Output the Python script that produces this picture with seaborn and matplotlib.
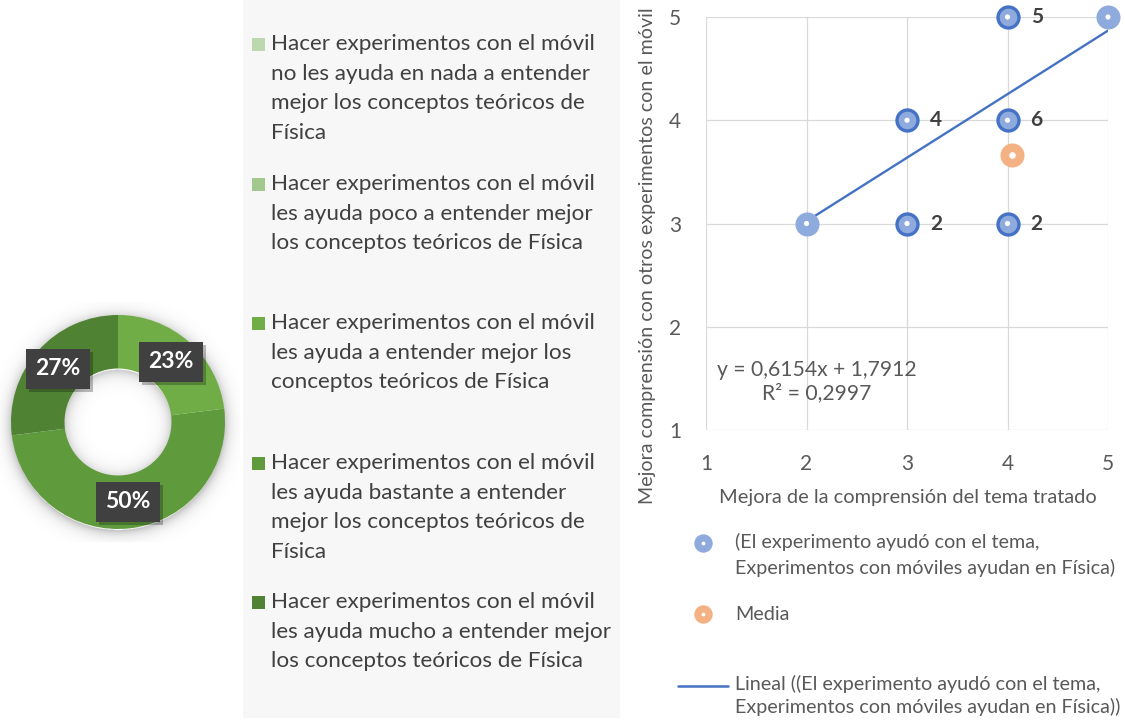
import numpy as np
import pandas as pd
import matplotlib
matplotlib.use("Agg")
import matplotlib.pyplot as plt
import seaborn as sns
from matplotlib.patches import Rectangle

sns.set_theme(style="white")
plt.rcParams['font.family'] = ['Lato', 'DejaVu Sans']

# ---- Donut: valoración de los experimentos con el móvil ----
categorias = [
    "Hacer experimentos con el móvil\nno les ayuda en nada a entender\nmejor los conceptos teóricos de\nFísica",
    "Hacer experimentos con el móvil\nles ayuda poco a entender mejor\nlos conceptos teóricos de Física",
    "Hacer experimentos con el móvil\nles ayuda a entender mejor los\nconceptos teóricos de Física",
    "Hacer experimentos con el móvil\nles ayuda bastante a entender\nmejor los conceptos teóricos de\nFísica",
    "Hacer experimentos con el móvil\nles ayuda mucho a entender mejor\nlos conceptos teóricos de Física",
]
porcentajes = [0, 0, 23, 50, 27]
colores = ["#BDD7AE", "#A3C88E", "#70AD47", "#5F9B3C", "#4F8233"]

# ---- Dispersión: mejora del tema vs. mejora con otros experimentos ----
mejora_tema = [2, 3, 3, 4, 4, 4, 5]
mejora_otros = [3, 3, 4, 3, 4, 5, 5]
respuestas = [1, 2, 4, 2, 6, 5, 1]

W, H = 1125, 720
fig = plt.figure(figsize=(W / 100, H / 100), dpi=100, facecolor="white")

# pixel-space overlay for the legend panel and free text
ax_bg = fig.add_axes([0, 0, 1, 1], zorder=0)
ax_bg.set_xlim(0, W)
ax_bg.set_ylim(H, 0)
ax_bg.axis("off")
ax_bg.add_patch(Rectangle((243, 0), 377, 718, color="#F7F7F7", lw=0))

texto_osc = "#404040"
texto_gris = "#595959"

# legend of the donut
y_entradas = [45, 185, 324, 464, 603]
for cat, col, y0 in zip(categorias, colores, y_entradas):
    ax_bg.add_patch(Rectangle((252, y0 - 7), 13, 13, color=col, lw=0))
    ax_bg.text(271, y0 - 11, cat, ha="left", va="top", fontsize=16.2,
               color=texto_osc, linespacing=1.6)

# ---- donut ----
R_PX = 107.0
cx, cy = 118, 422
ax_pie = fig.add_axes([0, (H - 542) / H, 240 / W, 240 / H], zorder=2)
ax_pie.axis("off")
ax_pie.patch.set_alpha(0)
xlim_p = (-cx / R_PX, (240 - cx) / R_PX)
ylim_p = (-(542 - cy) / R_PX, (cy - 302) / R_PX)

# soft drop shadow around the ring
gx = np.linspace(*xlim_p, 480)
gy = np.linspace(*ylim_p, 480)
XX, YY = np.meshgrid(gx, gy)
rr = np.hypot(XX, YY + 0.02)
sombra = np.zeros_like(rr)
fuera = rr > 0.99
sombra[fuera] = 0.26 * np.exp(-(rr[fuera] - 0.99) / 0.055)
dentro = rr < 0.51
sombra[dentro] = 0.22 * np.exp(-(0.51 - rr[dentro]) / 0.06)
img = np.zeros(rr.shape + (4,))
img[..., 3] = sombra
ax_pie.imshow(img, extent=(gx[0], gx[-1], gy[0], gy[-1]), origin="lower",
              aspect="auto", zorder=0, interpolation="bilinear")

ax_pie.pie(porcentajes, colors=colores, startangle=90, counterclock=False,
           radius=1.0, wedgeprops=dict(width=0.5, edgecolor="none"), frame=False)
ax_pie.set_xlim(*xlim_p)
ax_pie.set_ylim(*ylim_p)
ax_pie.set_aspect("auto")

acum = 0.0
total = float(sum(porcentajes))
for p in porcentajes:
    if p > 0:
        ang = np.deg2rad(90 - (acum + p / 2) / total * 360)
        lx, ly = 0.75 * np.cos(ang), 0.75 * np.sin(ang)
        bw, bh = 64 / R_PX, 40 / R_PX
        ax_pie.add_patch(Rectangle((lx - bw / 2 + 0.03, ly - bh / 2 - 0.03), bw, bh,
                                   color="black", alpha=0.25, lw=0, zorder=3))
        ax_pie.add_patch(Rectangle((lx - bw / 2, ly - bh / 2), bw, bh,
                                   color="#404040", lw=0, zorder=4))
        ax_pie.text(lx, ly, f"{p}%", ha="center", va="center", color="white",
                    fontsize=16.5, fontweight="bold", zorder=5)
    acum += p

# ---- scatter ----
ax = fig.add_axes([706 / W, (H - 430) / H, 402 / W, 413 / H], zorder=2)
df = pd.DataFrame({"tema": mejora_tema, "otros": mejora_otros, "n": respuestas})
datos = df.loc[df.index.repeat(df["n"])]

azul_claro = "#8FAADC"
azul = "#4472C4"
naranja = "#F4B183"

sns.regplot(data=datos, x="tema", y="otros", scatter=False, ci=None, truncate=True,
            color=azul, line_kws=dict(lw=1.7, zorder=3), ax=ax)

simples = df[df["n"] == 1]
multiples = df[df["n"] > 1]
sns.scatterplot(data=simples, x="tema", y="otros", s=228, color=azul_claro,
                edgecolor=azul_claro, linewidth=2.2, zorder=4, ax=ax, clip_on=False)
sns.scatterplot(data=multiples, x="tema", y="otros", s=228, color=azul_claro,
                edgecolor=azul, linewidth=2.4, zorder=4, ax=ax, clip_on=False)
sns.scatterplot(data=df, x="tema", y="otros", s=14, color="white", edgecolor="none",
                zorder=5, ax=ax, clip_on=False)

# mean point of both answers
media_tema = np.average(df["tema"], weights=df["n"])
media_otros = np.average(df["otros"], weights=df["n"])
ax.scatter([media_otros], [media_tema], s=228, color=naranja, edgecolor=naranja,
           linewidth=2.2, zorder=4, clip_on=False)
ax.scatter([media_otros], [media_tema], s=14, color="white", zorder=5, clip_on=False)

for _, fila in multiples.iterrows():
    ax.text(fila["tema"] + 0.29, fila["otros"], f"{int(fila['n'])}", ha="center",
            va="center", fontsize=15, fontweight="bold", color=texto_osc, zorder=6)

# linear fit annotation
pend, orde = np.polyfit(datos["tema"], datos["otros"], 1)
r2 = np.corrcoef(datos["tema"], datos["otros"])[0, 1] ** 2
coma = lambda v: f"{v:.4f}".replace(".", ",")
ax.text(1.11, 1.58, f"y = {coma(pend)}x + {coma(orde)}", ha="left", va="center",
        fontsize=15.2, color=texto_gris, zorder=6)
ax.text(1.56, 1.36, f"R² = {coma(r2)}", ha="left", va="center",
        fontsize=15.2, color=texto_gris, zorder=6)

ax.set_xlim(1, 5)
ax.set_ylim(1, 5)
ax.set_xticks([1, 2, 3, 4, 5])
ax.set_yticks([1, 2, 3, 4, 5])
ax.grid(True, color="#D9D9D9", lw=0.9)
ax.set_axisbelow(True)
for s in ax.spines.values():
    s.set_visible(False)
ax.tick_params(axis="both", length=0, labelsize=15, labelcolor=texto_gris)
ax.tick_params(axis="x", pad=17)
ax.tick_params(axis="y", pad=18)
ax.set_xlabel("Mejora de la comprensión del tema tratado", fontsize=14.4,
              color=texto_gris)
ax.xaxis.set_label_coords((908 - 706) / 402, (430 - 497) / 413)
ax.set_ylabel("Mejora comprensión con otros experimentos con el móvil", fontsize=14.1,
              color=texto_gris)
ax.yaxis.set_label_coords((648 - 706) / 402, (430 - 256) / 413)
ax.xaxis.label.set_va("center")
ax.yaxis.label.set_va("center")

# legend of the scatter
ax_bg.scatter([703], [543], s=150, color=azul_claro, zorder=3)
ax_bg.scatter([703], [543], s=3, color="white", zorder=4)
ax_bg.text(735, 533, "(El experimento ayudó con el tema,\nExperimentos con móviles ayudan en Física)",
           ha="left", va="top", fontsize=14.2, color=texto_gris, linespacing=1.55)
ax_bg.scatter([703], [614], s=150, color=naranja, zorder=3)
ax_bg.scatter([703], [614], s=3, color="white", zorder=4)
ax_bg.text(735, 614, "Media", ha="left", va="center", fontsize=14.2, color=texto_gris)
ax_bg.plot([678, 728], [686, 686], color=azul, lw=1.8)
ax_bg.text(735, 675, "Lineal ((El experimento ayudó con el tema,\nExperimentos con móviles ayudan en Física))",
           ha="left", va="top", fontsize=14.2, color=texto_gris, linespacing=1.35)

fig.savefig("out.png", dpi=100, facecolor="white")
